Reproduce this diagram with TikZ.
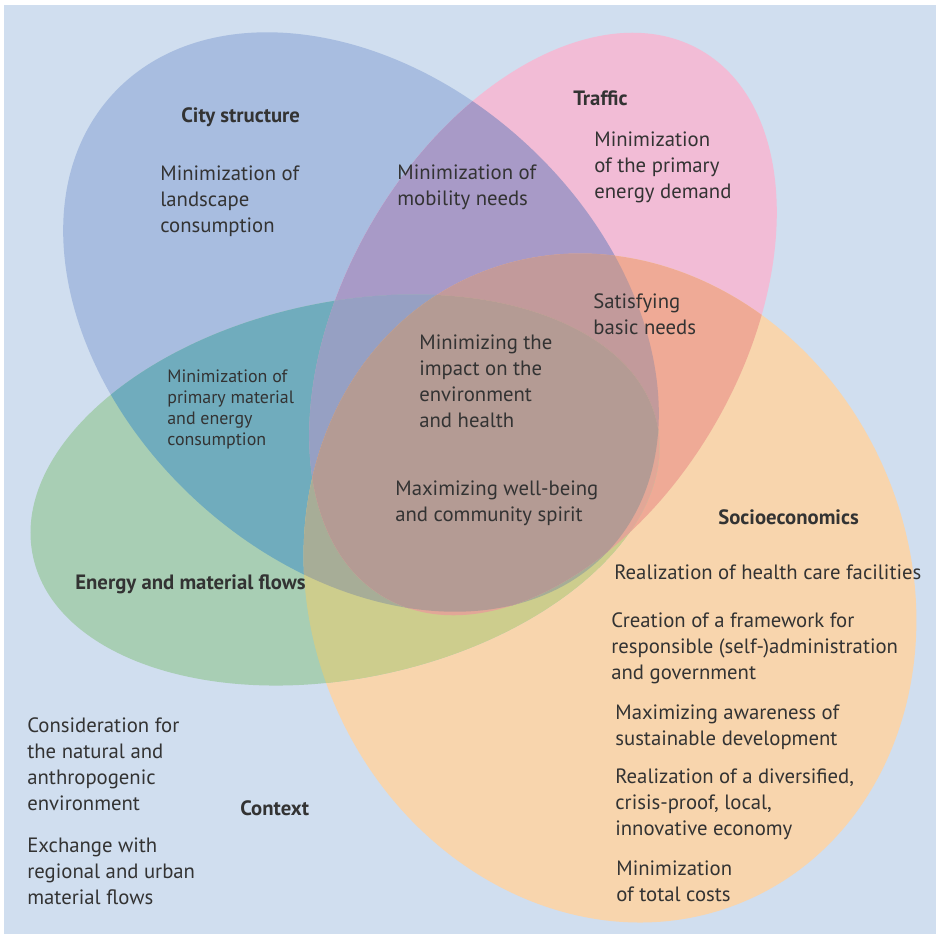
\documentclass[tikz,border=0pt]{standalone}
\usepackage{fontspec}
\setmainfont{PT Sans}
\usepackage{tikz}

\definecolor{bgBlue}{HTML}{D0DEEF}
\definecolor{inkGray}{HTML}{333333}
\definecolor{cityC}{HTML}{A8BDE0}
\definecolor{trafficC}{HTML}{F2BCD6}
\definecolor{socioC}{HTML}{F8D5AD}
\definecolor{energyC}{HTML}{A8CEB4}
\definecolor{cityTrafficC}{HTML}{A89AC7}
\definecolor{cityEnergyC}{HTML}{70ACBD}
\definecolor{citySocioC}{HTML}{AFA6B8}
\definecolor{trafficSocioC}{HTML}{EFAA96}
\definecolor{trafficEnergyC}{HTML}{C4B0BC}
\definecolor{energySocioC}{HTML}{CDCD8D}
\definecolor{cteC}{HTML}{96A0C3}
\definecolor{ctsC}{HTML}{C29A9B}
\definecolor{cesC}{HTML}{A7AD97}
\definecolor{tesC}{HTML}{E2A797}
\definecolor{allC}{HTML}{B49B94}

% the four sets (pixel units, y downwards)
\newcommand{\cityPath}{[rotate around={-42.5:(361,322)}] (361,322) ellipse [x radius=337, y radius=243]}
\newcommand{\trafficPath}{[rotate around={60:(543,324)}] (543,324) ellipse [x radius=316, y radius=199]}
\newcommand{\socioPath}{[rotate around={-66:(610,588)}] (610,588) ellipse [x radius=341, y radius=299]}
\newcommand{\energyPath}{[rotate around={12:(345,490)}] (345,490) ellipse [x radius=319, y radius=188]}

\begin{document}
\begin{tikzpicture}[
  x=0.02cm, y=-0.02cm,
  item/.style={anchor=west, align=left, inner sep=0pt, text=inkGray,
               font=\fontsize{11.8}{14.8}\selectfont},
  smallitem/.style={item, font=\fontsize{10.2}{11.9}\selectfont},
  heading/.style={anchor=west, inner sep=0pt, text=inkGray,
                  font=\bfseries\fontsize{11.8}{14}\selectfont}
]
  \useasboundingbox (0,0) rectangle (936,938);
  \fill[bgBlue] (4,5) rectangle (936,934);

  % single sets
  \fill[cityC] \cityPath;
  \fill[trafficC] \trafficPath;
  \fill[socioC] \socioPath;
  \fill[energyC] \energyPath;

  % pairs
  \begin{scope}\clip \cityPath; \fill[cityTrafficC] \trafficPath;\end{scope}
  \begin{scope}\clip \cityPath; \fill[cityEnergyC] \energyPath;\end{scope}
  \begin{scope}\clip \cityPath; \fill[citySocioC] \socioPath;\end{scope}
  \begin{scope}\clip \trafficPath; \fill[trafficSocioC] \socioPath;\end{scope}
  \begin{scope}\clip \trafficPath; \fill[trafficEnergyC] \energyPath;\end{scope}
  \begin{scope}\clip \energyPath; \fill[energySocioC] \socioPath;\end{scope}

  % triples
  \begin{scope}\clip \cityPath; \clip \trafficPath; \fill[cteC] \energyPath;\end{scope}
  \begin{scope}\clip \cityPath; \clip \trafficPath; \fill[ctsC] \socioPath;\end{scope}
  \begin{scope}\clip \cityPath; \clip \energyPath; \fill[cesC] \socioPath;\end{scope}
  \begin{scope}\clip \trafficPath; \clip \energyPath; \fill[tesC] \socioPath;\end{scope}

  % all four
  \begin{scope}\clip \cityPath; \clip \trafficPath; \clip \energyPath; \fill[allC] \socioPath;\end{scope}

  % headings
  \node[heading] (cityHead) at (181,117) {City structure};
  \node[heading] (trafficHead) at (573,98) {Traffic};
  \node[heading] (socioHead) at (718,517) {Socioeconomics};
  \node[heading] (energyHead) at (75,584) {Energy and material flows};
  \node[heading] (contextHead) at (240,808) {Context};

  % goals
  \node[item] (landscape) at (160,201) {Minimization of\\landscape\\consumption};
  \node[item] (mobility) at (397,187) {Minimization of\\mobility needs};
  \node[item] (primaryEnergy) at (594,167) {Minimization\\of the primary\\energy demand};
  \node[item] (basicNeeds) at (593,314) {Satisfying\\basic needs};
  \node[item] (impact) at (419,381.5) {Minimizing the\\impact on the\\environment\\and health};
  \node[smallitem] (material) at (167,409.5) {Minimization of\\primary material\\and energy\\consumption};
  \node[item] (wellBeing) at (395,503) {Maximizing well-being\\and community spirit};
  \node[item] (health) at (614,572) {Realization of health care facilities};
  \node[item] (framework) at (611,648) {Creation of a framework for\\responsible (self-)administration\\and government};
  \node[item] (awareness) at (615,727) {Maximizing awareness of\\sustainable development};
  \node[item] (economy) at (615,804) {Realization of a diversified,\\crisis-proof, local,\\innovative economy};
  \node[item] (costs) at (616,881.5) {Minimization\\of total costs};
  \node[item] (consideration) at (27,764) {Consideration for\\the natural and\\anthropogenic\\environment};
  \node[item] (exchange) at (27,871) {Exchange with\\regional and urban\\material flows};
\end{tikzpicture}
\end{document}
